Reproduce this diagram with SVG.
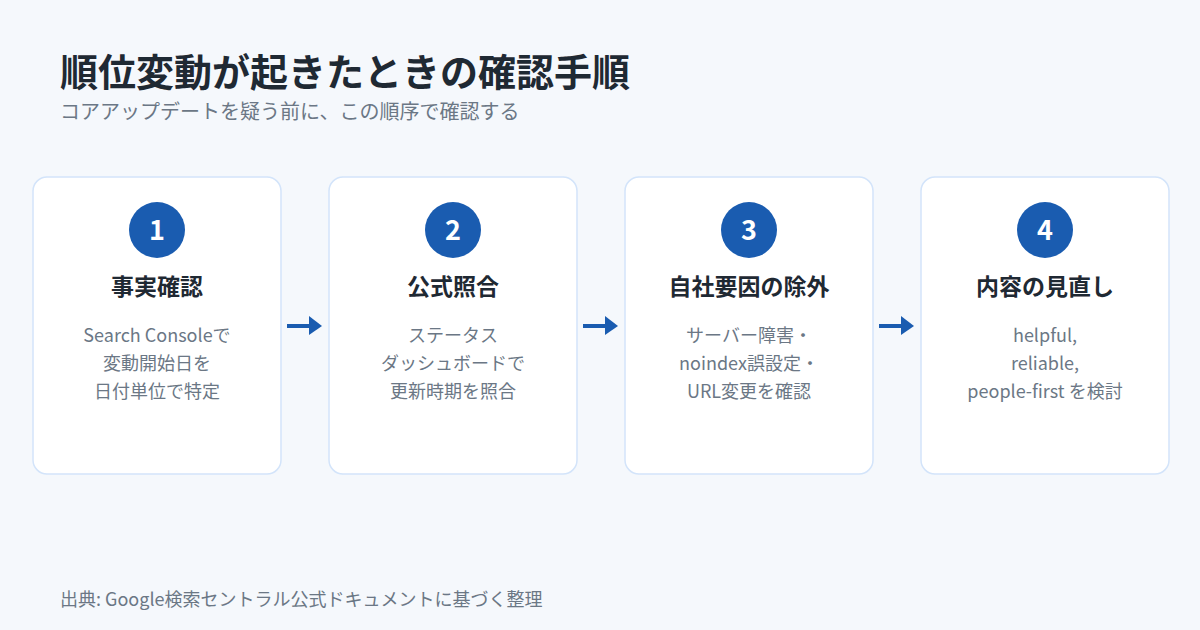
<svg xmlns="http://www.w3.org/2000/svg" width="1200" height="630" viewBox="0 0 1200 630">
<defs>
<style>
text{font-family:"Noto Sans CJK JP","Noto Sans",sans-serif}
.card{fill:#ffffff;stroke:#d3e4fa;stroke-width:1.5}
.num{fill:#1a5cb0}
.numt{fill:#ffffff;font-size:27px;font-weight:700;text-anchor:middle}
.title{fill:#1f2933;font-size:23px;font-weight:700;text-anchor:middle}
.desc{fill:#6b7785;font-size:18px;text-anchor:middle}
.conn{stroke:#1a5cb0;stroke-width:4;fill:none}
.head{fill:#1a5cb0}
</style>
</defs>
<rect width="1200" height="630" fill="#f5f8fc"/>
<text x="60" y="86" style="font-size:38px;font-weight:700;fill:#1f2933">順位変動が起きたときの確認手順</text>
<text x="60" y="119" style="font-size:20px;fill:#6b7785">コアアップデートを疑う前に、この順序で確認する</text>
<g id="node1">
<rect class="card" x="33" y="177" width="248" height="297" rx="14"/>
<circle class="num" cx="157" cy="230" r="28"/>
<text class="numt" x="157" y="240">1</text>
<text class="title" x="157" y="295">事実確認</text>
<text class="desc" x="157" y="342">Search Consoleで</text>
<text class="desc" x="157" y="370">変動開始日を</text>
<text class="desc" x="157" y="398">日付単位で特定</text>
</g>
<g id="node2">
<rect class="card" x="329" y="177" width="248" height="297" rx="14"/>
<circle class="num" cx="453" cy="230" r="28"/>
<text class="numt" x="453" y="240">2</text>
<text class="title" x="453" y="295">公式照合</text>
<text class="desc" x="453" y="342">ステータス</text>
<text class="desc" x="453" y="370">ダッシュボードで</text>
<text class="desc" x="453" y="398">更新時期を照合</text>
</g>
<g id="node3">
<rect class="card" x="625" y="177" width="248" height="297" rx="14"/>
<circle class="num" cx="749" cy="230" r="28"/>
<text class="numt" x="749" y="240">3</text>
<text class="title" x="749" y="295">自社要因の除外</text>
<text class="desc" x="749" y="342">サーバー障害・</text>
<text class="desc" x="749" y="370">noindex誤設定・</text>
<text class="desc" x="749" y="398">URL変更を確認</text>
</g>
<g id="node4">
<rect class="card" x="921" y="177" width="248" height="297" rx="14"/>
<circle class="num" cx="1045" cy="230" r="28"/>
<text class="numt" x="1045" y="240">4</text>
<text class="title" x="1045" y="295">内容の見直し</text>
<text class="desc" x="1045" y="342">helpful,</text>
<text class="desc" x="1045" y="370">reliable,</text>
<text class="desc" x="1045" y="398">people-first を検討</text>
</g>
<g id="connectors">
<line class="conn" x1="287" y1="326" x2="311" y2="326"/>
<polygon class="head" points="309,316 322,326 309,335"/>
<line class="conn" x1="583" y1="326" x2="607" y2="326"/>
<polygon class="head" points="605,316 618,326 605,335"/>
<line class="conn" x1="879" y1="326" x2="903" y2="326"/>
<polygon class="head" points="901,316 914,326 901,335"/>
</g>
<text x="60" y="606" style="font-size:18px;fill:#6b7785">出典: Google検索セントラル公式ドキュメントに基づく整理</text>
</svg>
